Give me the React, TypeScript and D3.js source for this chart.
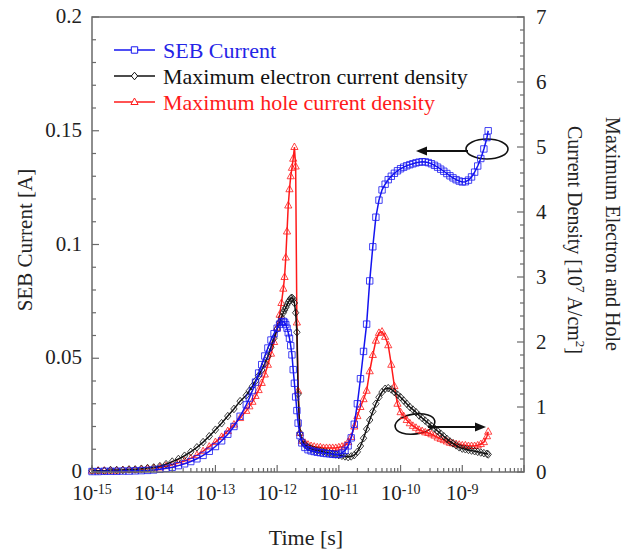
import React from "react";
import * as d3 from "d3";

const W = 638;
const H = 554;
const PLOT = { left: 92, right: 524, top: 17, bottom: 472 };

// time samples, as log10(t [s])
const logTime = [
  -15.0, -14.9, -14.8, -14.7, -14.6, -14.5, -14.4, -14.3, -14.2, -14.1, -14.0, -13.9, -13.8, -13.7,
  -13.6, -13.5, -13.4, -13.3, -13.2, -13.1, -13.0, -12.9, -12.8, -12.7, -12.6,
  -12.5, -12.45, -12.4, -12.35, -12.3, -12.25, -12.2, -12.15, -12.1, -12.05, -12.0, -11.96,
  -11.93, -11.9, -11.88, -11.86, -11.84, -11.82, -11.8, -11.78, -11.76, -11.74, -11.72, -11.7,
  -11.68, -11.66, -11.63, -11.6,
  -11.55, -11.5, -11.45, -11.4, -11.35, -11.3, -11.25, -11.2, -11.15, -11.1, -11.05, -11.0,
  -10.95, -10.9, -10.85, -10.8, -10.75, -10.7, -10.65, -10.6, -10.55, -10.5, -10.45, -10.4,
  -10.35, -10.3, -10.25, -10.2, -10.15, -10.1, -10.05, -10.0, -9.95, -9.9, -9.85, -9.8,
  -9.75, -9.7, -9.65, -9.6, -9.55, -9.5, -9.45, -9.4, -9.35, -9.3, -9.25, -9.2,
  -9.15, -9.1, -9.05, -9.0, -8.95, -8.9, -8.85, -8.8, -8.75, -8.7, -8.65, -8.6, -8.58,
];

// SEB current [A] (left axis)
const sebCurrent = [
  0.0002, 0.0002, 0.0003, 0.0003, 0.0003, 0.0004, 0.0004, 0.0005, 0.0006, 0.0007, 0.0009, 0.0012, 0.0016, 0.0021,
  0.0028, 0.0036, 0.0046, 0.0058, 0.0073, 0.0091, 0.0112, 0.0137, 0.0166, 0.02, 0.0245,
  0.0295, 0.0325, 0.0358, 0.0395, 0.0435, 0.0472, 0.051, 0.0545, 0.058, 0.0608, 0.0632, 0.065,
  0.066, 0.0662, 0.0658, 0.0648, 0.0632, 0.0612, 0.0588, 0.0555, 0.0515, 0.045, 0.039, 0.033,
  0.027, 0.0215, 0.016, 0.0128,
  0.0108, 0.0098, 0.0093, 0.009, 0.0087, 0.0085, 0.0083, 0.0081, 0.008, 0.0078, 0.0077, 0.0078,
  0.0083, 0.0095, 0.0115, 0.015, 0.021, 0.03, 0.041, 0.053, 0.065, 0.084, 0.099, 0.112,
  0.1195, 0.124, 0.1265, 0.1285, 0.13, 0.1313, 0.1324, 0.1333, 0.134, 0.1346, 0.1351, 0.1355,
  0.1359, 0.1362, 0.1364, 0.1363, 0.136, 0.1355, 0.1348, 0.134, 0.1331, 0.1322, 0.1312, 0.1302,
  0.1293, 0.1285, 0.1279, 0.1275, 0.1276, 0.1283, 0.1297, 0.1318, 0.1345, 0.1378, 0.142, 0.147, 0.15,
];

// Maximum electron current density [1e7 A/cm^2] (right axis)
const electronDensity = [
  0.02, 0.02, 0.02, 0.03, 0.03, 0.03, 0.04, 0.04, 0.05, 0.06, 0.07, 0.09, 0.12, 0.16,
  0.2, 0.25, 0.31, 0.38, 0.46, 0.55, 0.65, 0.75, 0.86, 0.97, 1.09,
  1.18, 1.25, 1.32, 1.4, 1.48, 1.57, 1.67, 1.78, 1.92, 2.06, 2.2, 2.3,
  2.38, 2.45, 2.49, 2.53, 2.57, 2.61, 2.64, 2.67, 2.68, 2.66, 2.6, 2.45,
  2.15, 1.2, 0.6, 0.48,
  0.42, 0.38, 0.36, 0.34, 0.33, 0.32, 0.31, 0.3, 0.29, 0.28, 0.27, 0.26,
  0.25, 0.24, 0.23, 0.24, 0.26, 0.31, 0.4, 0.52, 0.66, 0.8, 0.93, 1.05,
  1.15, 1.23, 1.28, 1.29, 1.27, 1.23, 1.19, 1.15, 1.1, 1.05, 1.0, 0.96,
  0.92, 0.87, 0.83, 0.79, 0.75, 0.71, 0.67, 0.63, 0.59, 0.55, 0.51, 0.47,
  0.44, 0.41, 0.38, 0.36, 0.35, 0.34, 0.33, 0.32, 0.31, 0.3, 0.29, 0.28, 0.27,
];

// Maximum hole current density [1e7 A/cm^2] (right axis)
const holeDensity = [
  0.02, 0.02, 0.02, 0.02, 0.02, 0.03, 0.03, 0.03, 0.04, 0.05, 0.06, 0.07, 0.09, 0.11,
  0.14, 0.17, 0.21, 0.26, 0.32, 0.39, 0.46, 0.54, 0.63, 0.73, 0.83,
  0.94, 1.01, 1.08, 1.17, 1.26, 1.37, 1.5, 1.65, 1.82, 2.0, 2.22, 2.42,
  2.6, 2.82, 3.0, 3.3, 3.7, 4.1, 4.35, 4.55, 4.68, 4.82, 5.0, 4.7,
  2.3, 1.25, 0.6, 0.48,
  0.45, 0.42, 0.4, 0.39, 0.38, 0.38, 0.37, 0.37, 0.37, 0.37, 0.37, 0.38,
  0.39, 0.41, 0.46, 0.54, 0.7, 0.86, 1.0, 1.12, 1.25, 1.55, 1.8, 2.02,
  2.14, 2.16, 2.08, 1.95, 1.65, 1.32, 1.05, 0.92, 0.86, 0.8, 0.75, 0.71,
  0.68, 0.65, 0.63, 0.61, 0.6, 0.58, 0.56, 0.53, 0.51, 0.49, 0.47, 0.45,
  0.44, 0.43, 0.42, 0.41, 0.41, 0.4, 0.4, 0.4, 0.41, 0.43, 0.46, 0.55, 0.62,
];

const leftTickValues = [0, 0.05, 0.1, 0.15, 0.2];
const leftTickLabels = ["0", "0.05", "0.1", "0.15", "0.2"];
const rightTickValues = [0, 1, 2, 3, 4, 5, 6, 7];
const xTickExponents = [-15, -14, -13, -12, -11, -10, -9];
const legendLabels = ["SEB Current", "Maximum electron current density", "Maximum hole current density"];

const BLUE = "#1414f0";
const RED = "#ff1a1a";
const BLACK = "#111";
const AXIS = "#6a6a6a";
const FONT = "Liberation Serif, Times New Roman, serif";
const TXT = { fontFamily: FONT };

const SQUARE = "M-3.2,-3.2h6.4v6.4h-6.4z";
const DIAMOND = "M0,-3.8L3.2,0L0,3.8L-3.2,0Z";
const TRIANGLE = "M0,-4L3.6,2.5L-3.6,2.5Z";

export default function App() {
  const x = d3.scaleLog().domain([1e-15, 1e-8]).range([PLOT.left, PLOT.right]);
  const yL = d3.scaleLinear().domain([0, 0.2]).range([PLOT.bottom, PLOT.top]);
  const yR = d3.scaleLinear().domain([0, 7]).range([PLOT.bottom, PLOT.top]);

  const times = logTime.map((l) => Math.pow(10, l));

  const mk = (vals: number[], y: d3.ScaleLinear<number, number>) =>
    vals.map((v, i) => [x(times[i]), y(v)] as [number, number]);

  const blueData = mk(sebCurrent, yL);
  const blackData = mk(electronDensity, yR);
  const redData = mk(holeDensity, yR);

  const line = d3.line<[number, number]>().x((d) => d[0]).y((d) => d[1]);

  const leftMinor = yL.ticks(20);
  const rightMinor = yR.ticks(35);
  const xMinor = x.ticks().filter((t) => t >= 1e-15 && t <= 1e-8);

  const isDecade = (t: number) => Math.abs(Math.log10(t) - Math.round(Math.log10(t))) < 1e-6;

  const series = [
    { data: redData, color: RED, path: TRIANGLE },
    { data: blackData, color: BLACK, path: DIAMOND },
    { data: blueData, color: BLUE, path: SQUARE },
  ];

  const legendItems = [
    { label: legendLabels[0], color: BLUE, text: "#2424e6", path: SQUARE },
    { label: legendLabels[1], color: BLACK, text: "#111", path: DIAMOND },
    { label: legendLabels[2], color: RED, text: "#ff1a1a", path: TRIANGLE },
  ];

  const arrowHead = (tipX: number, tipY: number, dir: number) =>
    `M${tipX},${tipY}L${tipX - dir * 11},${tipY - 4.5}L${tipX - dir * 11},${tipY + 4.5}Z`;

  return (
    <svg
      width={W}
      height={H}
      style={{ position: "absolute", left: 0, top: 0, background: "#fff", fontFamily: FONT }}
    >
      <rect x={0} y={0} width={W} height={H} fill="#fff" />

      {/* annotation ellipses (behind the data) */}
      <ellipse cx={487} cy={149} rx={21} ry={10} fill="none" stroke={BLACK} strokeWidth={1.6} />
      <ellipse cx={415} cy={424} rx={20} ry={10} fill="none" stroke={BLACK} strokeWidth={1.6}
        transform="rotate(-8 415 424)" />

      {/* series */}
      {series.map((s, si) => (
        <g key={si}>
          <path d={line(s.data) || ""} fill="none" stroke={s.color} strokeWidth={1.5} />
          {s.data.map((d, i) => (
            <path key={i} d={s.path} transform={`translate(${d[0]},${d[1]})`} fill="none"
              stroke={s.color} strokeWidth={1} strokeOpacity={0.8} />
          ))}
        </g>
      ))}

      {/* arrows */}
      <line x1={468} y1={151} x2={425} y2={151} stroke={BLACK} strokeWidth={1.8} />
      <path d={arrowHead(416, 151, -1)} fill={BLACK} />
      <line x1={428} y1={427} x2={476} y2={427} stroke={BLACK} strokeWidth={1.8} />
      <path d={arrowHead(486, 427, 1)} fill={BLACK} />

      {/* frame */}
      <rect x={PLOT.left} y={PLOT.top} width={PLOT.right - PLOT.left} height={PLOT.bottom - PLOT.top}
        fill="none" stroke={AXIS} strokeWidth={1.5} />

      {/* left ticks */}
      {leftMinor.map((t, i) => {
        const major = leftTickValues.some((v) => Math.abs(v - t) < 1e-9);
        return <line key={i} x1={PLOT.left} x2={PLOT.left + (major ? 7 : 4)} y1={yL(t)} y2={yL(t)}
          stroke={AXIS} strokeWidth={1.2} />;
      })}
      {leftTickValues.map((t, i) => (
        <text key={i} x={82} y={yL(t) + 6} textAnchor="end" fontSize={21} fill="#222" style={TXT}>{leftTickLabels[i]}</text>
      ))}

      {/* right ticks */}
      {rightMinor.map((t, i) => {
        const major = Math.abs(t - Math.round(t)) < 1e-9;
        return <line key={i} x1={PLOT.right} x2={PLOT.right - (major ? 7 : 4)} y1={yR(t)} y2={yR(t)}
          stroke={AXIS} strokeWidth={1.2} />;
      })}
      {rightTickValues.map((t, i) => (
        <text key={i} x={536} y={yR(t) + 6.5} textAnchor="start" fontSize={21} fill="#222" style={TXT}>{String(t)}</text>
      ))}

      {/* bottom ticks */}
      {xMinor.map((t, i) => {
        const major = isDecade(t);
        return <line key={i} x1={x(t)} x2={x(t)} y1={PLOT.bottom} y2={PLOT.bottom - (major ? 7 : 4)}
          stroke={AXIS} strokeWidth={1.2} />;
      })}
      {xTickExponents.map((e, i) => (
        <text key={i} x={x(Math.pow(10, e))} y={500} textAnchor="middle" fontSize={21} fill="#222" style={TXT}>
          10<tspan dy={-6} fontSize={14}>{String(e)}</tspan>
        </text>
      ))}

      {/* axis titles */}
      <text x={306} y={545} textAnchor="middle" fontSize={22} fill="#222" style={TXT}>Time [s]</text>
      <text transform="translate(32,240) rotate(-90)" textAnchor="middle" fontSize={21} fill="#222" style={TXT}>
        SEB Current [A]
      </text>
      <text transform="translate(606,234) rotate(90)" textAnchor="middle" fontSize={20} fill="#222" style={TXT}>
        Maximum Electron and Hole
      </text>
      <text transform="translate(568,240) rotate(90)" textAnchor="middle" fontSize={20} fill="#222" style={TXT}>
        Current Density [10<tspan dy={-8} fontSize={13}>7</tspan>
        <tspan dy={8}> A/cm</tspan>
        <tspan dy={-8} fontSize={13}>2</tspan>
        <tspan dy={8}>]</tspan>
      </text>

      {/* legend */}
      {legendItems.map((it, i) => {
        const ly = 50 + i * 26;
        return (
          <g key={i}>
            <line x1={114} x2={155} y1={ly} y2={ly} stroke={it.color} strokeWidth={1.5} />
            <path d={it.path} transform={`translate(134.5,${ly})`} fill="#fff" stroke={it.color} strokeWidth={1} />
            <text x={163} y={ly + 8} fontSize={22} fill={it.text} style={TXT}>{it.label}</text>
          </g>
        );
      })}
    </svg>
  );
}
